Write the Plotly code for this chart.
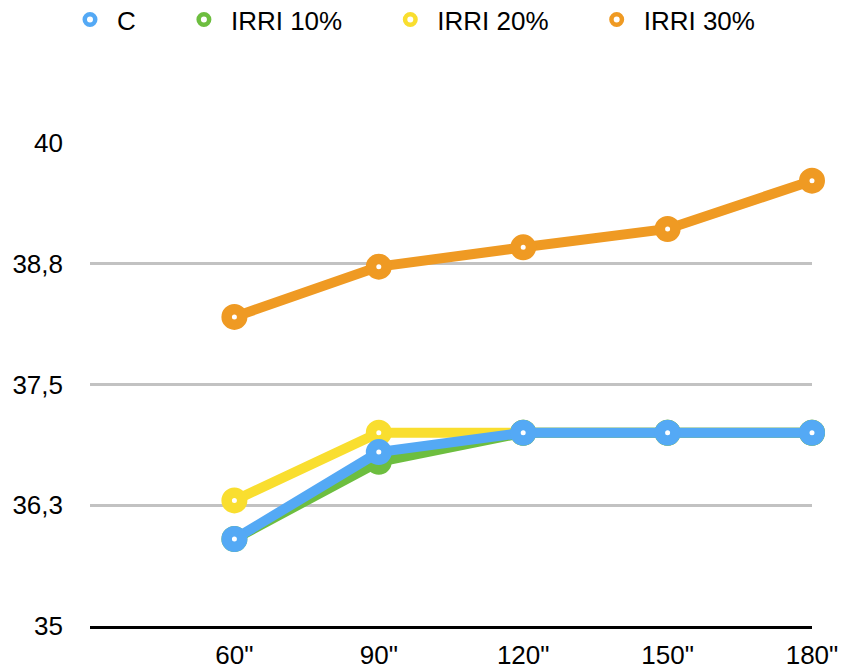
import plotly.graph_objects as go

# Categories along the x axis
durations = ['60"', '90"', '120"', '150"', '180"']

# Series values
c_vals = [35.9, 36.8, 37.0, 37.0, 37.0]
irri10_vals = [35.9, 36.7, 37.0, 37.0, 37.0]
irri20_vals = [36.3, 37.0, 37.0, 37.0, 37.0]
irri30_vals = [38.2, 38.72, 38.92, 39.11, 39.61]

series_names = ["C", "IRRI 10%", "IRRI 20%", "IRRI 30%"]
series_colors = ["#54A9F5", "#6DBE3F", "#F9DE2F", "#EF9A23"]

# Y axis ticks (labels use a comma decimal separator)
y_tickvals = [35, 36.25, 37.5, 38.75, 40]
y_ticktext = ["35", "36,3", "37,5", "38,8", "40"]

FONT = "Liberation Sans, Arial, Helvetica, sans-serif"
PAD = "\u00a0" * 5

MARGIN_T, MARGIN_B = 143, 42.5
PLOT_H = 669 - MARGIN_T - MARGIN_B

fig = go.Figure()

# Draw order: orange at the back, blue (C) on top
data = [
    (series_names[3], irri30_vals, series_colors[3]),
    (series_names[2], irri20_vals, series_colors[2]),
    (series_names[1], irri10_vals, series_colors[1]),
    (series_names[0], c_vals, series_colors[0]),
]
for name, vals, color in data:
    fig.add_trace(go.Scatter(
        x=durations, y=vals, mode="lines+markers", name=name,
        line=dict(color=color, width=10),
        marker=dict(symbol="circle", size=15.5, color="white",
                    line=dict(color=color, width=10.5)),
        showlegend=False, cliponaxis=False,
    ))

# Legend entries: ring markers only
for i, (name, color) in enumerate(zip(series_names, series_colors)):
    label = name + (PAD if i < len(series_names) - 1 else "")
    fig.add_trace(go.Scatter(
        x=[None], y=[None], mode="markers", name=label,
        marker=dict(symbol="circle", size=10.5, color="white",
                    line=dict(color=color, width=4.5)),
    ))

fig.update_layout(
    width=842, height=669,
    margin=dict(l=90, r=30, t=MARGIN_T, b=MARGIN_B, autoexpand=False),
    paper_bgcolor="white", plot_bgcolor="white",
    font=dict(family=FONT, size=26, color="black"),
    showlegend=True,
    legend=dict(
        orientation="h", xref="container", yref="paper",
        x=63 / 842, xanchor="left", y=1 + (MARGIN_T + 4) / PLOT_H, yanchor="top",
        itemwidth=44, font=dict(family=FONT, size=26, color="black"),
        bgcolor="rgba(0,0,0,0)", traceorder="normal",
    ),
    xaxis=dict(
        type="category", range=[-1, 4], automargin=False,
        showgrid=False, zeroline=False,
        showline=True, linecolor="black", linewidth=2.5,
        ticks="", tickfont=dict(family=FONT, size=26, color="black"),
        ticklabelstandoff=4,
    ),
    yaxis=dict(
        range=[35, 40], tickvals=y_tickvals, ticktext=y_ticktext,
        automargin=False,
        showgrid=True, gridcolor="#C2C2C2", gridwidth=2.5,
        zeroline=False, showline=False, ticks="",
        tickfont=dict(family=FONT, size=26, color="black"),
        ticklabelstandoff=26,
    ),
)

fig.write_html("out.html")
